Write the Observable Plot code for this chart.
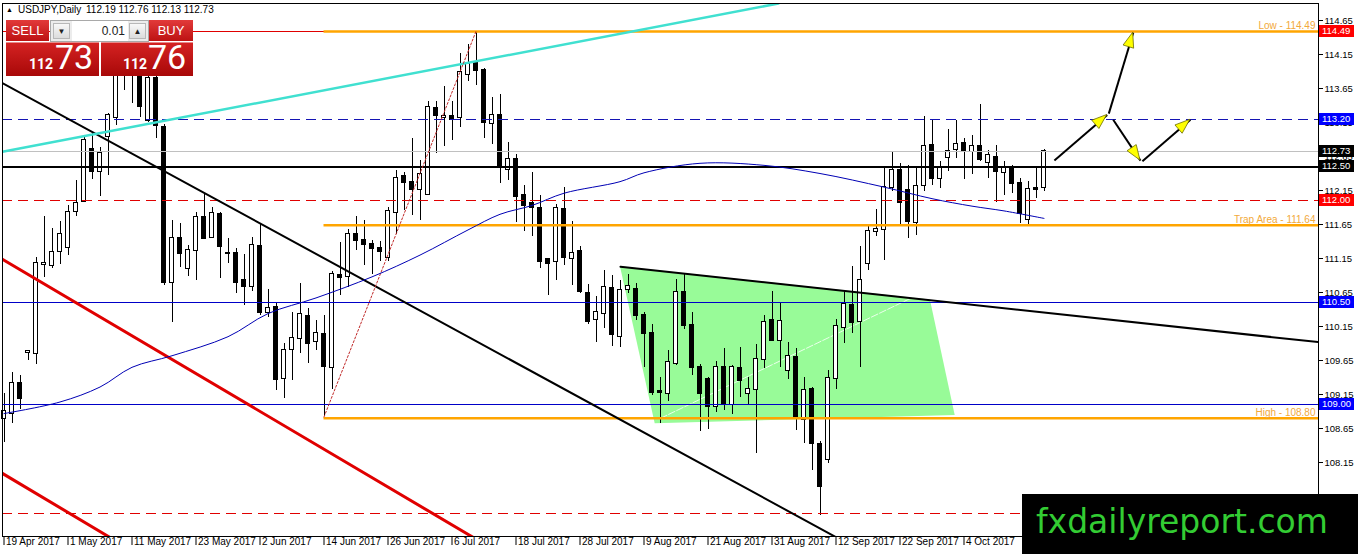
<!DOCTYPE html>
<html>
<head>
<meta charset="utf-8">
<script src="https://cdn.jsdelivr.net/npm/d3@7"></script>
<script src="https://cdn.jsdelivr.net/npm/@observablehq/plot@0.6"></script>
<style>
  body { margin: 0; background: #fff; }
  #wrap { position: relative; width: 1358px; height: 554px; overflow: hidden; font-family: "Liberation Sans", Arial, sans-serif; }
  #chart { position: absolute; left: 0; top: 0; }
  .abs { position: absolute; }
  .title { top: 4px; font-size: 10px; color: #000; white-space: nowrap; }
  .btn { top: 20px; height: 21px; background: linear-gradient(#e23a3a, #bd1212); color: #fff; font-size: 13px; line-height: 21px; text-align: center; }
  .lot { left: 50px; top: 20px; width: 97px; height: 20px; background: #ececec; border: 1px solid #a9a9a9; }
  .spin { top: 2px; width: 17px; height: 16px; background: linear-gradient(#f8f8f8, #dcdcdc); border: 1px solid #b8b8b8; font-size: 8px; line-height: 16px; text-align: center; color: #222; box-sizing: border-box; }
  .field { left: 21px; top: 0; width: 56px; height: 20px; background: #fff; font-size: 12px; line-height: 20px; text-align: right; color: #222; box-sizing: border-box; padding-right: 3px; }
  .quote { top: 42px; height: 34px; background: linear-gradient(#d42222, #a80808); border-top: 1px solid #e98a8a; box-sizing: border-box; color: #fff; }
  .small { bottom: 5px; font-family: "Liberation Sans Narrow", "Roboto", sans-serif; font-weight: bold; font-size: 14px; line-height: 1; }
  .big { bottom: 2px; font-family: "Liberation Sans Narrow", "Roboto", sans-serif; font-size: 34px; line-height: 1; }
  .logo { left: 1022px; top: 494px; width: 336px; height: 60px; background: #000; }
  .logo span { position: absolute; left: 14px; top: 11px; font-family: "DejaVu Sans", sans-serif; font-size: 33px; line-height: 1; color: #33cc33; white-space: nowrap; }
</style>
</head>
<body>
<div id="wrap">
  <div id="chart"></div>
  <div class="abs title" style="left:6px;top:6px;font-size:7px;">▲</div>
  <div class="abs title" style="left:18px;">USDJPY,Daily</div>
  <div class="abs title" style="left:86px;">112.19 112.76 112.13 112.73</div>
  <div class="abs btn" style="left:6px;width:43px;">SELL</div>
  <div class="abs lot">
    <div class="abs spin" style="left:2px;">▼</div>
    <div class="abs field">0.01</div>
    <div class="abs spin" style="left:78px;">▲</div>
  </div>
  <div class="abs btn" style="left:149px;width:44px;">BUY</div>
  <div class="abs quote" style="left:6px;width:93px;">
    <span class="abs small" style="left:23px;">112</span>
    <span class="abs big" style="left:49px;">73</span>
  </div>
  <div class="abs quote" style="left:101px;width:92px;">
    <span class="abs small" style="left:22px;">112</span>
    <span class="abs big" style="left:47px;">76</span>
  </div>
  <div class="abs logo"><span>fxdailyreport.com</span></div>
</div>
<script>
// USDJPY daily candles, 19 Apr 2017 .. 18 Oct 2017 (bar index = trading day)
const dateTicks = [0, 8, 16, 24, 32, 40, 48, 56, 64, 72, 80, 88, 96, 104, 112, 120];
const dateLabels = ["19 Apr 2017", "1 May 2017", "11 May 2017", "23 May 2017", "2 Jun 2017", "14 Jun 2017",
  "26 Jun 2017", "6 Jul 2017", "18 Jul 2017", "28 Jul 2017", "9 Aug 2017", "21 Aug 2017",
  "31 Aug 2017", "12 Sep 2017", "22 Sep 2017", "4 Oct 2017"];
const priceTicks = [107.65, 108.15, 108.65, 109.15, 109.65, 110.15, 110.65, 111.15,
  111.65, 112.15, 112.65, 113.15, 113.65, 114.15, 114.65];

const opens = [
  108.80,108.87,109.31,109.77,109.75,111.06,111.04,111.25,111.31,111.84,
  111.99,112.75,112.43,112.94,113.23,113.98,114.24,113.86,113.18,113.80,
  113.08,110.79,111.45,111.00,111.27,111.75,111.46,111.80,111.23,111.22,
  110.83,110.74,111.33,110.35,110.43,109.38,109.81,109.98,110.30,109.93,
  110.03,109.54,110.90,110.89,111.51,111.41,111.35,111.30,111.17,111.82,
  112.35,112.27,112.16,112.09,113.35,113.22,113.24,113.22,113.86,114.03,
  113.92,113.14,113.25,112.46,112.60,112.07,111.96,111.88,111.13,111.10,
  111.87,111.15,111.26,110.64,110.25,110.34,110.71,110.01,110.69,110.70,
  110.31,110.04,109.19,109.16,109.60,110.65,110.17,109.55,109.37,108.97,
  109.54,109.01,109.53,109.17,109.22,109.67,110.24,109.95,109.51,109.70,
  108.78,109.22,108.42,108.19,109.39,110.14,110.46,110.23,111.07,111.55,
  111.57,112.19,112.45,112.15,111.68,112.22,112.81,112.32,112.63,112.75,
  112.84,112.72,112.80,112.56,112.64,112.41,112.47,112.26,111.73,112.18,
  112.19];
const highs = [
  109.16,109.48,109.43,109.80,111.17,111.77,111.59,111.70,111.93,112.30,
  112.96,112.99,112.78,113.28,114.14,114.37,114.36,114.00,113.92,113.85,
  113.12,111.71,111.66,111.34,111.83,112.11,111.90,111.83,111.44,111.29,
  111.21,111.46,111.66,110.70,110.51,109.90,110.36,110.78,110.41,110.24,
  110.31,110.96,111.39,111.57,111.77,111.71,111.41,111.40,111.90,112.45,
  112.42,112.91,112.59,113.46,113.46,113.68,113.46,114.16,114.29,114.49,
  113.94,113.52,113.56,112.86,112.68,112.23,112.41,112.08,111.15,111.94,
  112.19,111.70,111.32,110.77,110.59,110.97,110.90,110.83,110.92,110.78,
  110.36,110.18,109.40,109.79,110.84,110.92,110.36,109.59,109.40,109.64,
  109.82,109.58,109.84,109.40,109.89,110.31,110.66,110.51,109.92,109.82,
  109.40,109.25,108.46,109.50,110.25,110.66,111.03,111.32,111.64,111.87,
  112.49,112.71,112.54,112.52,112.47,113.24,113.18,112.57,113.05,113.18,
  112.92,112.96,113.42,112.74,112.81,112.58,112.52,112.32,112.28,112.47,
  112.76];
const lows = [
  108.45,108.72,108.93,109.65,109.59,110.87,111.01,111.06,111.20,111.77,
  111.98,112.31,112.06,112.37,113.11,113.62,113.43,113.23,113.15,112.91,
  110.76,110.21,111.02,110.89,110.82,111.44,111.44,110.85,111.07,110.64,
  110.46,110.67,110.31,110.28,109.21,109.09,109.36,109.75,109.60,109.80,
  108.82,109.23,110.61,110.72,111.27,111.05,110.92,111.11,111.11,111.51,
  111.86,111.78,111.71,112.08,112.70,112.80,112.88,113.08,113.75,113.70,
  112.91,112.83,112.25,112.29,111.68,111.54,111.47,111.00,110.61,110.82,
  111.04,110.76,110.63,110.18,109.92,110.12,109.85,109.84,110.64,110.24,
  109.55,109.13,108.73,109.04,109.58,110.10,109.43,108.60,108.63,108.88,
  108.91,108.86,109.11,109.01,108.28,109.53,109.93,109.55,109.37,108.62,
  108.43,108.03,107.37,108.13,109.23,109.90,110.05,109.54,110.97,111.48,
  111.12,112.13,111.64,111.45,111.49,112.13,112.23,112.18,112.43,112.62,
  112.31,112.39,112.57,112.32,111.98,112.08,112.10,111.66,111.63,112.03,
  112.13];
const closes = [
  108.90,109.31,109.09,109.78,111.07,111.08,111.24,111.51,111.82,111.96,
  112.88,112.43,112.70,113.25,113.98,114.24,113.86,113.38,113.80,113.11,
  110.79,111.45,111.23,111.27,111.76,111.45,111.81,111.32,111.22,110.80,
  110.74,111.34,110.36,110.42,109.37,109.80,109.97,110.33,109.90,110.04,
  109.56,110.92,110.87,111.50,111.42,111.35,111.29,111.26,111.84,112.32,
  112.27,112.16,112.38,113.37,113.26,113.24,113.19,113.89,114.00,113.92,
  113.15,113.26,112.52,112.61,112.06,111.93,111.90,111.10,111.07,111.88,
  111.16,111.23,110.67,110.23,110.35,110.72,110.03,110.68,110.74,110.31,
  110.05,109.18,109.18,109.62,110.65,110.17,109.55,109.17,108.98,109.55,
  109.02,109.54,109.36,109.23,109.67,110.21,109.95,110.23,109.71,108.79,
  109.21,108.43,107.80,109.38,110.15,110.48,110.21,110.82,111.55,111.58,
  112.19,112.44,111.97,111.69,112.21,112.80,112.33,112.47,112.73,112.82,
  112.73,112.79,112.60,112.66,112.43,112.49,112.25,111.81,112.16,112.16,
  112.73];

// moving average: bar index and price
const maBars   = [0, 7, 12, 16, 21, 28, 33, 39, 46, 52, 58, 62, 66, 70, 77, 80, 87, 95, 102, 110, 116, 121, 125, 130];
const maPrices = [108.87, 109.04, 109.26, 109.55, 109.72, 110.00, 110.34, 110.57, 110.88, 111.20, 111.57, 111.80,
  111.93, 112.11, 112.28, 112.41, 112.55, 112.52, 112.40, 112.20, 112.03, 111.92, 111.85, 111.74];

// horizontal levels
const orangeLevels = [114.49, 111.64, 108.80];
const orangeLabels = ["Low - 114.49", "Trap Area - 111.64", "High - 108.80"];
const orangeFromBar = 40;
const redDashedLevels = [112.00, 107.40];
const blueDashedLevels = [113.20];
const blueLevels = [110.50, 109.00];
const blackLevels = [112.50];
const bidLevels = [112.73];
const redThinLevels = [114.49];
const tagPrices = [114.49, 113.20, 112.73, 112.50, 112.00, 110.50, 109.00];
const tagKinds  = ["red", "blue", "black", "black", "red", "blue", "blue"];

// drawn objects as [bar, price] points
const cyanTrend   = [[-0.2, 112.72], [96.8, 114.90]];
const blackTrend  = [[-0.2, 113.73], [104.5, 107.02]];
const redChannelA = [[-0.2, 111.14], [60.5, 106.92]];
const redChannelB = [[-0.2, 107.99], [14.5, 106.96]];
const wedgeTop    = [[77.06, 111.03], [164.31, 109.92]];
const swingDotted = [[40, 108.82], [59, 114.49]];
const wedgeInner  = [[82.06, 108.80], [113.6, 110.58]];
const trapZone    = [[77.06, 111.03, 81.4, 108.72], [115.8, 110.54], [118.9, 108.84]];
const arrowMoves  = [
  [131.3, 112.59, 137.9, 113.26],
  [138.1, 113.28, 141.15, 114.47],
  [138.65, 113.19, 142.06, 112.59],
  [142.3, 112.58, 148.3, 113.19]
];

const candles = opens.map((open, i) => ({i, open, high: highs[i], low: lows[i], close: closes[i]}));
const zone = [
  {xa: trapZone[0][0], ya: trapZone[0][1], xb: trapZone[0][2], yb: trapZone[0][3]},
  {xa: trapZone[1][0], ya: trapZone[1][1], xb: trapZone[2][0], yb: trapZone[2][1]}
];
const maLine = maBars.map((b, k) => [b, maPrices[k]]);

const tagColor = {red: "#ff0000", blue: "#0000ff", black: "#000000"};

function priceTags(index, {y}, values, {width, marginRight}) {
  const g = d3.create("svg:g")
    .attr("font-size", 9.5)
    .attr("font-family", "Liberation Sans, Arial, sans-serif")
    .attr("text-anchor", "start");
  const x0 = width - marginRight + 1;
  tagPrices.forEach((p, k) => {
    const cy = Math.round(y(p));
    g.append("rect").attr("x", x0).attr("y", cy - 6).attr("width", 35).attr("height", 12)
      .attr("fill", tagColor[tagKinds[k]]);
    g.append("text").attr("x", x0 + 3).attr("y", cy).attr("dy", "0.35em").attr("fill", "#fff")
      .text(p.toFixed(2));
  });
  return g.node();
}

function arrowHeads(index, {x, y}) {
  const g = d3.create("svg:g");
  for (const [b1, p1, b2, p2] of arrowMoves) {
    const x1 = x(b1), y1 = y(p1), x2 = x(b2), y2 = y(p2);
    const len = Math.hypot(x2 - x1, y2 - y1);
    const ux = (x2 - x1) / len, uy = (y2 - y1) / len;
    const bx = x2 - ux * 15, by = y2 - uy * 15;
    g.append("path")
      .attr("d", `M${x2},${y2}L${bx - uy * 5.5},${by + ux * 5.5}L${bx + uy * 5.5},${by - ux * 5.5}Z`)
      .attr("fill", "#ffff00").attr("stroke", "#6b6b00").attr("stroke-width", 0.8);
  }
  return g.node();
}

const trend = (pts, o) => Plot.line(pts, {x: d => d[0], y: d => d[1], clip: true, ...o});
const crisp = {shapeRendering: "crispEdges"};

const chart = Plot.plot({
  width: 1358,
  height: 554,
  marginTop: 3,
  marginBottom: 18,
  marginLeft: 2,
  marginRight: 40,
  x: {type: "linear", domain: [-0.1875, 164.3125], axis: null},
  y: {domain: [107.062, 114.90], axis: null},
  style: {background: "#fff", fontFamily: "Liberation Sans, Arial, sans-serif", fontSize: "10px", color: "#000"},
  marks: [
    Plot.area(zone, {x1: "xa", y1: "ya", x2: "xb", y2: "yb", fill: "#98fb98"}),
    trend(wedgeInner, {stroke: "#fff", strokeWidth: 1, strokeOpacity: 0.8, strokeDasharray: "7,2"}),

    // candles
    Plot.ruleX(candles, {x: "i", y1: "low", y2: "high", stroke: "#000", ...crisp}),
    Plot.rect(candles, {
      x1: d => d.i - 0.3, x2: d => d.i + 0.3, y1: "open", y2: "close",
      fill: d => (d.close < d.open ? "#000" : "#fff"), stroke: "#000", strokeWidth: 1,
      insetTop: -0.5, insetBottom: -0.5, ...crisp
    }),

    // horizontal levels
    Plot.ruleY(bidLevels, {stroke: "#c0c0c0", strokeWidth: 1, ...crisp}),
    Plot.ruleY(redThinLevels, {stroke: "#e00000", strokeWidth: 1, ...crisp}),
    Plot.ruleY(blueLevels, {stroke: "#0000c8", strokeWidth: 1, ...crisp}),
    Plot.ruleY(blueDashedLevels, {stroke: "#1414b4", strokeWidth: 1, strokeDasharray: "10,6", ...crisp}),
    Plot.ruleY(redDashedLevels, {stroke: "#e00000", strokeWidth: 1, strokeDasharray: "10,6", ...crisp}),
    Plot.ruleY(blackLevels, {stroke: "#000", strokeWidth: 2, ...crisp}),
    Plot.ruleY(orangeLevels, {x1: orangeFromBar, x2: 164.3125, stroke: "#ffa500", strokeWidth: 2.5}),
    Plot.text(orangeLevels, {
      x: 164.3125, y: d => d, text: (d, i) => orangeLabels[i], textAnchor: "end", lineAnchor: "bottom",
      dx: -3, dy: -2, fill: "#f2a93b", fontSize: 10
    }),

    // trend lines and indicator
    trend(redChannelA, {stroke: "#e00000", strokeWidth: 3}),
    trend(redChannelB, {stroke: "#e00000", strokeWidth: 3}),
    trend(blackTrend, {stroke: "#000", strokeWidth: 2}),
    trend(wedgeTop, {stroke: "#000", strokeWidth: 2}),
    trend(cyanTrend, {stroke: "#40e0d0", strokeWidth: 2.5}),
    trend(swingDotted, {stroke: "#c02828", strokeWidth: 1, strokeDasharray: "2,2"}),
    Plot.line(maLine, {x: d => d[0], y: d => d[1], curve: "catmull-rom", stroke: "#0000b4", strokeWidth: 1}),

    // forecast arrows
    Plot.link(arrowMoves, {x1: d => d[0], y1: d => d[1], x2: d => d[2], y2: d => d[3], stroke: "#000", strokeWidth: 2}),
    arrowHeads,

    // axes
    Plot.frame({stroke: "#000"}),
    Plot.axisX(dateTicks, {tickSize: 9, tickFormat: () => ""}),
    Plot.text(dateTicks, {x: d => d, frameAnchor: "bottom", text: (d, i) => dateLabels[i], textAnchor: "start", dx: 2, dy: 8, fontSize: 10}),
    Plot.axisY(priceTicks, {anchor: "right", tickSize: 4, tickPadding: 2, tickFormat: d => d.toFixed(2), fontSize: 9.5}),
    priceTags
  ]
});

document.getElementById("chart").appendChild(chart);
</script>
</body>
</html>
